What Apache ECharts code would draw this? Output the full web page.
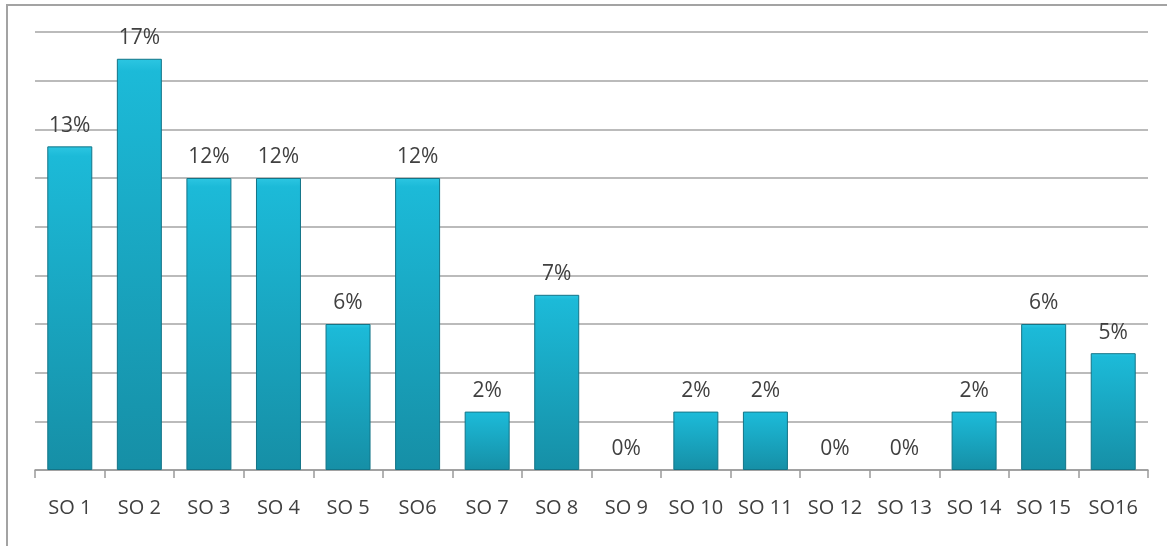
<!DOCTYPE html>
<html>
<head>
<meta charset="utf-8">
<script src="https://cdn.jsdelivr.net/npm/echarts@6/dist/echarts.min.js"></script>
<style>
  html, body { margin: 0; padding: 0; background: #fff; }
  #frame {
    position: absolute; left: 6px; top: 4px; width: 1161px; height: 542px;
    border-top: 2px solid #a3a3a3; border-left: 2px solid #a3a3a3;
  }
  #chart { position: absolute; left: 0; top: 0; width: 1167px; height: 546px; }
</style>
</head>
<body>
<div id="frame"></div>
<div id="chart"></div>
<script>
// categories and shares (%)
const categories = ["SO 1", "SO 2", "SO 3", "SO 4", "SO 5", "SO6", "SO 7", "SO 8",
  "SO 9", "SO 10", "SO 11", "SO 12", "SO 13", "SO 14", "SO 15", "SO16"];
const shares = [13.3, 16.9, 12, 12, 6, 12, 2.4, 7.2, 0, 2.4, 2.4, 0, 0, 2.4, 6, 4.8];

const chart = echarts.init(document.getElementById("chart"));

// zero bars get no outline so nothing shows on the axis
const barData = shares.map((v) =>
  v === 0 ? { value: v, itemStyle: { borderWidth: 0 } } : v
);

const option = {
  animation: false,
  grid: { left: 35, right: 19, top: 32, bottom: 76 },
  xAxis: {
    type: "category",
    data: categories,
    axisLine: { lineStyle: { color: "#9a9a9a", width: 1.5 } },
    axisTick: { show: true, length: 8, lineStyle: { color: "#9a9a9a", width: 1.5 } },
    axisLabel: {
      interval: 0,
      hideOverlap: false,
      color: "#404040",
      fontFamily: "Open Sans",
      fontSize: 20,
      margin: 28,
    },
  },
  yAxis: {
    type: "value",
    min: 0,
    max: 18,
    interval: 2,
    axisLabel: { show: false },
    axisLine: { show: false },
    axisTick: { show: false },
    splitLine: { lineStyle: { color: "#a5a5a5", width: 1.5 } },
  },
  series: [
    {
      type: "bar",
      data: barData,
      barWidth: 45,
      itemStyle: {
        borderColor: "#137487",
        borderWidth: 1,
        color: new echarts.graphic.LinearGradient(0, 0, 0, 1, [
          { offset: 0, color: "#2cc6e2" },
          { offset: 0.03, color: "#1cbad8" },
          { offset: 1, color: "#168fa6" },
        ]),
      },
      label: {
        show: true,
        position: "top",
        distance: 10,
        color: "#404040",
        fontFamily: "Open Sans",
        fontSize: 21,
        formatter: (p) => Math.round(p.value) + "%",
      },
    },
  ],
};

chart.setOption(option);
</script>
</body>
</html>
